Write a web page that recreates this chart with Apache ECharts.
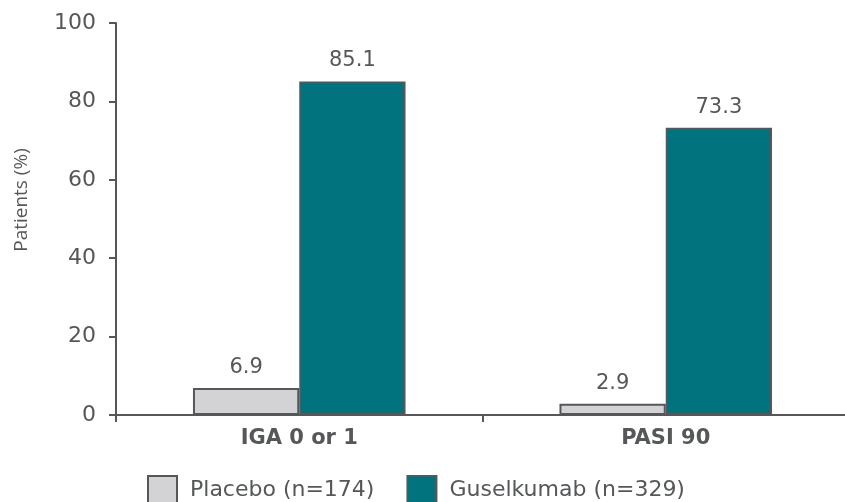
<!DOCTYPE html>
<html>
<head>
<meta charset="utf-8">
<script src="https://cdn.jsdelivr.net/npm/echarts@6/dist/echarts.min.js"></script>
<style>
  html, body { margin: 0; padding: 0; background: #fff; }
  #chart { width: 845px; height: 502px; }
</style>
</head>
<body>
<div id="chart"></div>
<script>
// Response outcomes by treatment arm
const categories = ['IGA 0 or 1', 'PASI 90'];
const placeboValues = [6.9, 2.9];
const guselkumabValues = [85.1, 73.3];
const seriesNames = ['Placebo (n=174)', 'Guselkumab (n=329)'];
const yTicks = [0, 20, 40, 60, 80, 100];

const ink = '#555759';
const font = 'DejaVu Sans';

const chart = echarts.init(document.getElementById('chart'));

const barLabel = {
  show: true,
  position: 'top',
  distance: 10,
  color: ink,
  fontFamily: font,
  fontSize: 21,
  formatter: p => p.value.toFixed(1)
};

chart.setOption({
  animation: false,
  textStyle: { fontFamily: font },
  grid: {
    left: 116, top: 23, bottom: 87, right: -4,
    containLabel: false,
    outerBoundsMode: 'none'
  },
  legend: {
    left: 142,
    top: 470,
    itemWidth: 29,
    itemHeight: 29,
    itemGap: 32,
    icon: 'rect',
    itemStyle: { borderColor: ink, borderWidth: 2 },
    textStyle: { color: ink, fontFamily: font, fontSize: 22, padding: [0, 0, 0, 8] },
    data: seriesNames
  },
  xAxis: {
    type: 'category',
    data: categories,
    axisLine: { lineStyle: { color: ink, width: 2 } },
    axisTick: { show: true, length: 7, lineStyle: { color: ink, width: 2 } },
    axisLabel: { color: ink, fontFamily: font, fontSize: 21, fontWeight: 'bold', margin: 13 }
  },
  yAxis: {
    type: 'value',
    min: yTicks[0],
    max: yTicks[yTicks.length - 1],
    interval: 20,
    axisLine: { show: true, lineStyle: { color: ink, width: 2 } },
    axisTick: { show: true, inside: false, length: 7, lineStyle: { color: ink, width: 2 } },
    splitLine: { show: false },
    axisLabel: { color: ink, fontFamily: font, fontSize: 22, margin: 20 }
  },
  graphic: [{
    type: 'text',
    x: 22,
    y: 200,
    rotation: Math.PI / 2,
    style: {
      text: 'Patients (%)',
      fill: ink,
      fontFamily: 'Open Sans',
      fontSize: 19,
      align: 'center',
      verticalAlign: 'middle'
    }
  }],
  series: [
    {
      name: seriesNames[0],
      type: 'bar',
      data: placeboValues,
      barGap: '0%',
      barCategoryGap: '42%',
      itemStyle: { color: '#d3d3d5', borderColor: ink, borderWidth: 2 },
      label: barLabel
    },
    {
      name: seriesNames[1],
      type: 'bar',
      data: guselkumabValues,
      barGap: '0%',
      barCategoryGap: '42%',
      itemStyle: { color: '#00737f', borderColor: ink, borderWidth: 2 },
      label: barLabel
    }
  ]
});
</script>
</body>
</html>
